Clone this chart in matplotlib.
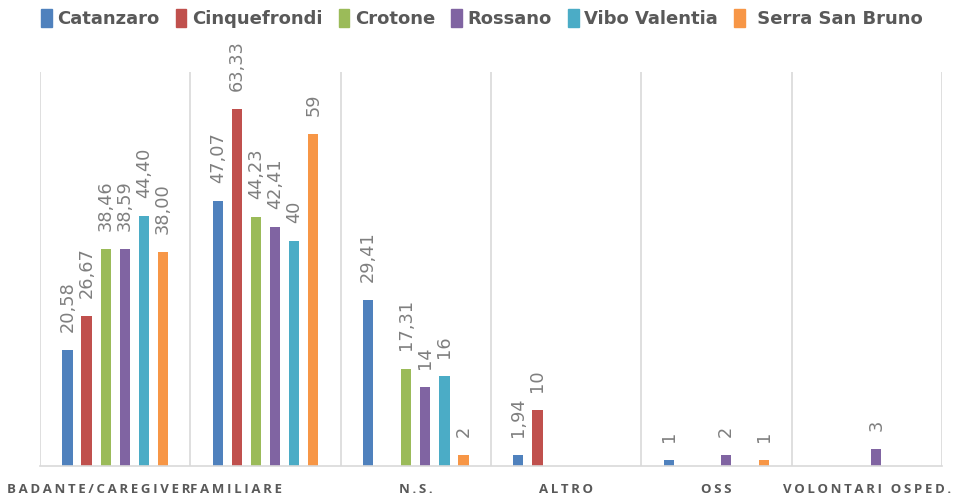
import numpy as np
import matplotlib.pyplot as plt
from matplotlib.patches import Patch

categories = ['BADANTE/CAREGIVER', 'FAMILIARE', 'N.S.', 'ALTRO', 'OSS', 'VOLONTARI OSPED.']
series = ['Catanzaro', 'Cinquefrondi', 'Crotone', 'Rossano', 'Vibo Valentia', ' Serra San Bruno']
colors = ['#4F81BD', '#C0504D', '#9BBB59', '#8064A2', '#4BACC6', '#F79646']

catanzaro = [20.58, 47.07, 29.41, 1.94, 1, None]
cinquefrondi = [26.67, 63.33, None, 10, None, None]
crotone = [38.46, 44.23, 17.31, None, None, None]
rossano = [38.59, 42.41, 14, None, 2, 3]
vibo = [44.40, 40, 16, None, None, None]
serra = [38.00, 59, 2, None, 1, None]

labels_catanzaro = ['20,58', '47,07', '29,41', '1,94', '1', '']
labels_cinquefrondi = ['26,67', '63,33', '', '10', '', '']
labels_crotone = ['38,46', '44,23', '17,31', '', '', '']
labels_rossano = ['38,59', '42,41', '14', '', '2', '3']
labels_vibo = ['44,40', '40', '16', '', '', '']
labels_serra = ['38,00', '59', '2', '', '1', '']

values = [catanzaro, cinquefrondi, crotone, rossano, vibo, serra]
labels = [labels_catanzaro, labels_cinquefrondi, labels_crotone,
          labels_rossano, labels_vibo, labels_serra]

fig = plt.figure(figsize=(9.65, 4.96), dpi=100)
ax = fig.add_axes([0.0415, 0.0605, 0.9345, 0.7945])

x = np.arange(len(categories))
step = 0.127
width = 0.068
for i, (vals, labs) in enumerate(zip(values, labels)):
    pos = x + (i - 2.5) * step
    for p, v, t in zip(pos, vals, labs):
        if v is None:
            continue
        ax.bar(p, v, width, color=colors[i], edgecolor='none')
        ax.annotate(t, (p, v), xytext=(0, 13), textcoords='offset points',
                    rotation=90, ha='center', va='bottom', fontsize=12.8,
                    color='#7f7f7f', annotation_clip=False)

ax.set_xlim(-0.5, len(categories) - 0.5)
ax.set_ylim(0, 70)
for b in np.arange(-0.5, len(categories), 1.0):
    ax.axvline(b, color='#d9d9d9', lw=1.2, zorder=0)
for s in ['top', 'left', 'right']:
    ax.spines[s].set_visible(False)
ax.spines['bottom'].set_color('#d9d9d9')
ax.spines['bottom'].set_linewidth(1.2)
ax.set_yticks([])
ax.set_xticks([])

# category labels, letter-spaced; first two touch like in the original
trans = ax.get_xaxis_transform()
for i, c in enumerate(categories):
    txt = '\u2009'.join(c)
    if i == 0:
        xp, ha = 0.5, 'right'
    elif i == 1:
        xp, ha = 0.5, 'left'
    else:
        xp, ha = i, 'center'
    ax.text(xp, -0.06, txt, transform=trans, ha=ha, va='center',
            fontsize=9.5, fontweight='bold', color='#595959',
            family='Open Sans')

handles = [Patch(color=c) for c in colors]
leg = fig.legend(handles, series, loc='center', bbox_to_anchor=(0.499, 0.962),
                 ncol=6, frameon=False, handlelength=0.6,
                 handleheight=1.1, handletextpad=0.3, columnspacing=0.9,
                 prop={'weight': 'bold', 'size': 13})
for t in leg.get_texts():
    t.set_color('#595959')

fig.savefig('out.png', dpi=100)
